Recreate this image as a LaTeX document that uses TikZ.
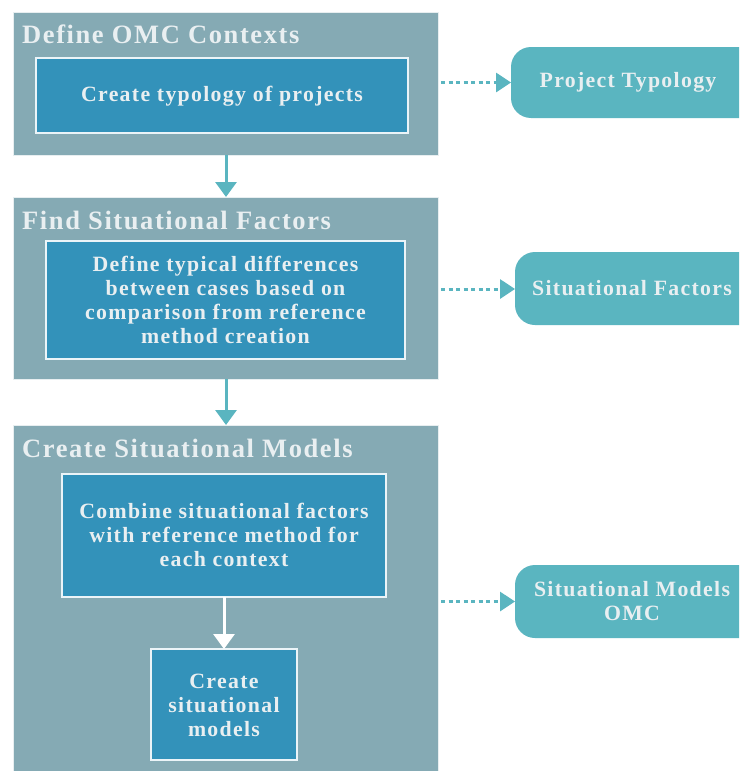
\documentclass[tikz,border=0pt]{standalone}
\usepackage{fontspec}
\setmainfont{Liberation Serif}[LetterSpace=6]
\usetikzlibrary{arrows.meta}
\definecolor{outerc}{HTML}{85AAB4}
\definecolor{innerc}{HTML}{3392BA}
\definecolor{tealc}{HTML}{5AB5C0}
\definecolor{txtc}{HTML}{E9EFF1}
\tikzset{
  outerbox/.style={draw=white!80!outerc, line width=0.8pt, fill=outerc},
  innerbox/.style={draw=white!90!innerc, line width=1.2pt, fill=innerc},
  resbox/.style={fill=tealc, rounded corners=20pt},
  titletext/.style={anchor=base west, text=txtc, font=\fontsize{26.5}{30}\selectfont\bfseries, inner sep=0pt},
  bodytext/.style={align=center, text=txtc, font=\fontsize{21.8}{24}\selectfont\bfseries, inner sep=0pt},
  flowarrow/.style={draw=tealc, line width=3pt, -{Triangle[length=15pt,width=21pt]}},
  whitearrow/.style={draw=white, line width=3pt, -{Triangle[length=15pt,width=21pt]}},
  dotarrow/.style={draw=tealc, line width=3pt, dash pattern=on 4pt off 3.5pt, -{Triangle[length=15pt,width=19pt,sep=0pt]}},
}
\begin{document}
\begin{tikzpicture}[x=1pt,y=-1pt]
\useasboundingbox (0,0) rectangle (739,771);
\clip (0,0) rectangle (739,771);
\fill[white] (0,0) rectangle (739,771);
% outer boxes
\path[outerbox] (13,12) rectangle (438,155);
\coordinate (o1b) at (226,155);
\path[outerbox] (13,197) rectangle (438,379);
\coordinate (o2t) at (226,197);
\coordinate (o2b) at (226,379);
\path[outerbox] (13,425) rectangle (438,790);
\coordinate (o3t) at (226,425);
% titles
\node[titletext] (t1) at (22,43) {Define OMC Contexts};
\node[titletext] (t2) at (22,229) {Find Situational Factors};
\node[titletext] (t3) at (22,457) {Create Situational Models};
% inner boxes
\path[innerbox] (36,58) rectangle (408,133);
\node[bodytext] (i1) at (222,96) {Create typology of projects};
\path[innerbox] (46,241) rectangle (405,359);
\node[bodytext] (i2) at (225.5,300) {Define typical differences\\between cases based on\\comparison from reference\\method creation};
\path[innerbox] (62,474) rectangle (386,597);
\node[bodytext] (i3) at (224,535) {Combine situational factors\\with reference method for\\each context};
\coordinate (i3b) at (224,597);
\path[innerbox] (151,649) rectangle (297,760);
\node[bodytext] (i4) at (224,705) {Create\\situational\\models};
\coordinate (i4t) at (224,649);
% result boxes
\path[resbox] (511,47) rectangle (760,118);
\node[bodytext] (r1) at (628,82.5) {Project Typology};
\path[resbox] (515,252) rectangle (760,325);
\node[bodytext] (r2) at (632,288.5) {Situational Factors};
\path[resbox] (515,565) rectangle (760,638);
\node[bodytext] (r3) at (632,601.5) {Situational Models\\OMC};
% connectors
\draw[flowarrow] (o1b) -- (o2t);
\draw[flowarrow] (o2b) -- (o3t);
\draw[whitearrow] (i3b) -- (i4t);
\coordinate (d1) at (441,82.5);
\coordinate (e1) at (511,82.5);
\coordinate (d2) at (441,289);
\coordinate (e2) at (515,289);
\coordinate (d3) at (441,601.5);
\coordinate (e3) at (515,601.5);
\draw[dotarrow] (d1) -- (e1);
\draw[dotarrow] (d2) -- (e2);
\draw[dotarrow] (d3) -- (e3);
\end{tikzpicture}
\end{document}
